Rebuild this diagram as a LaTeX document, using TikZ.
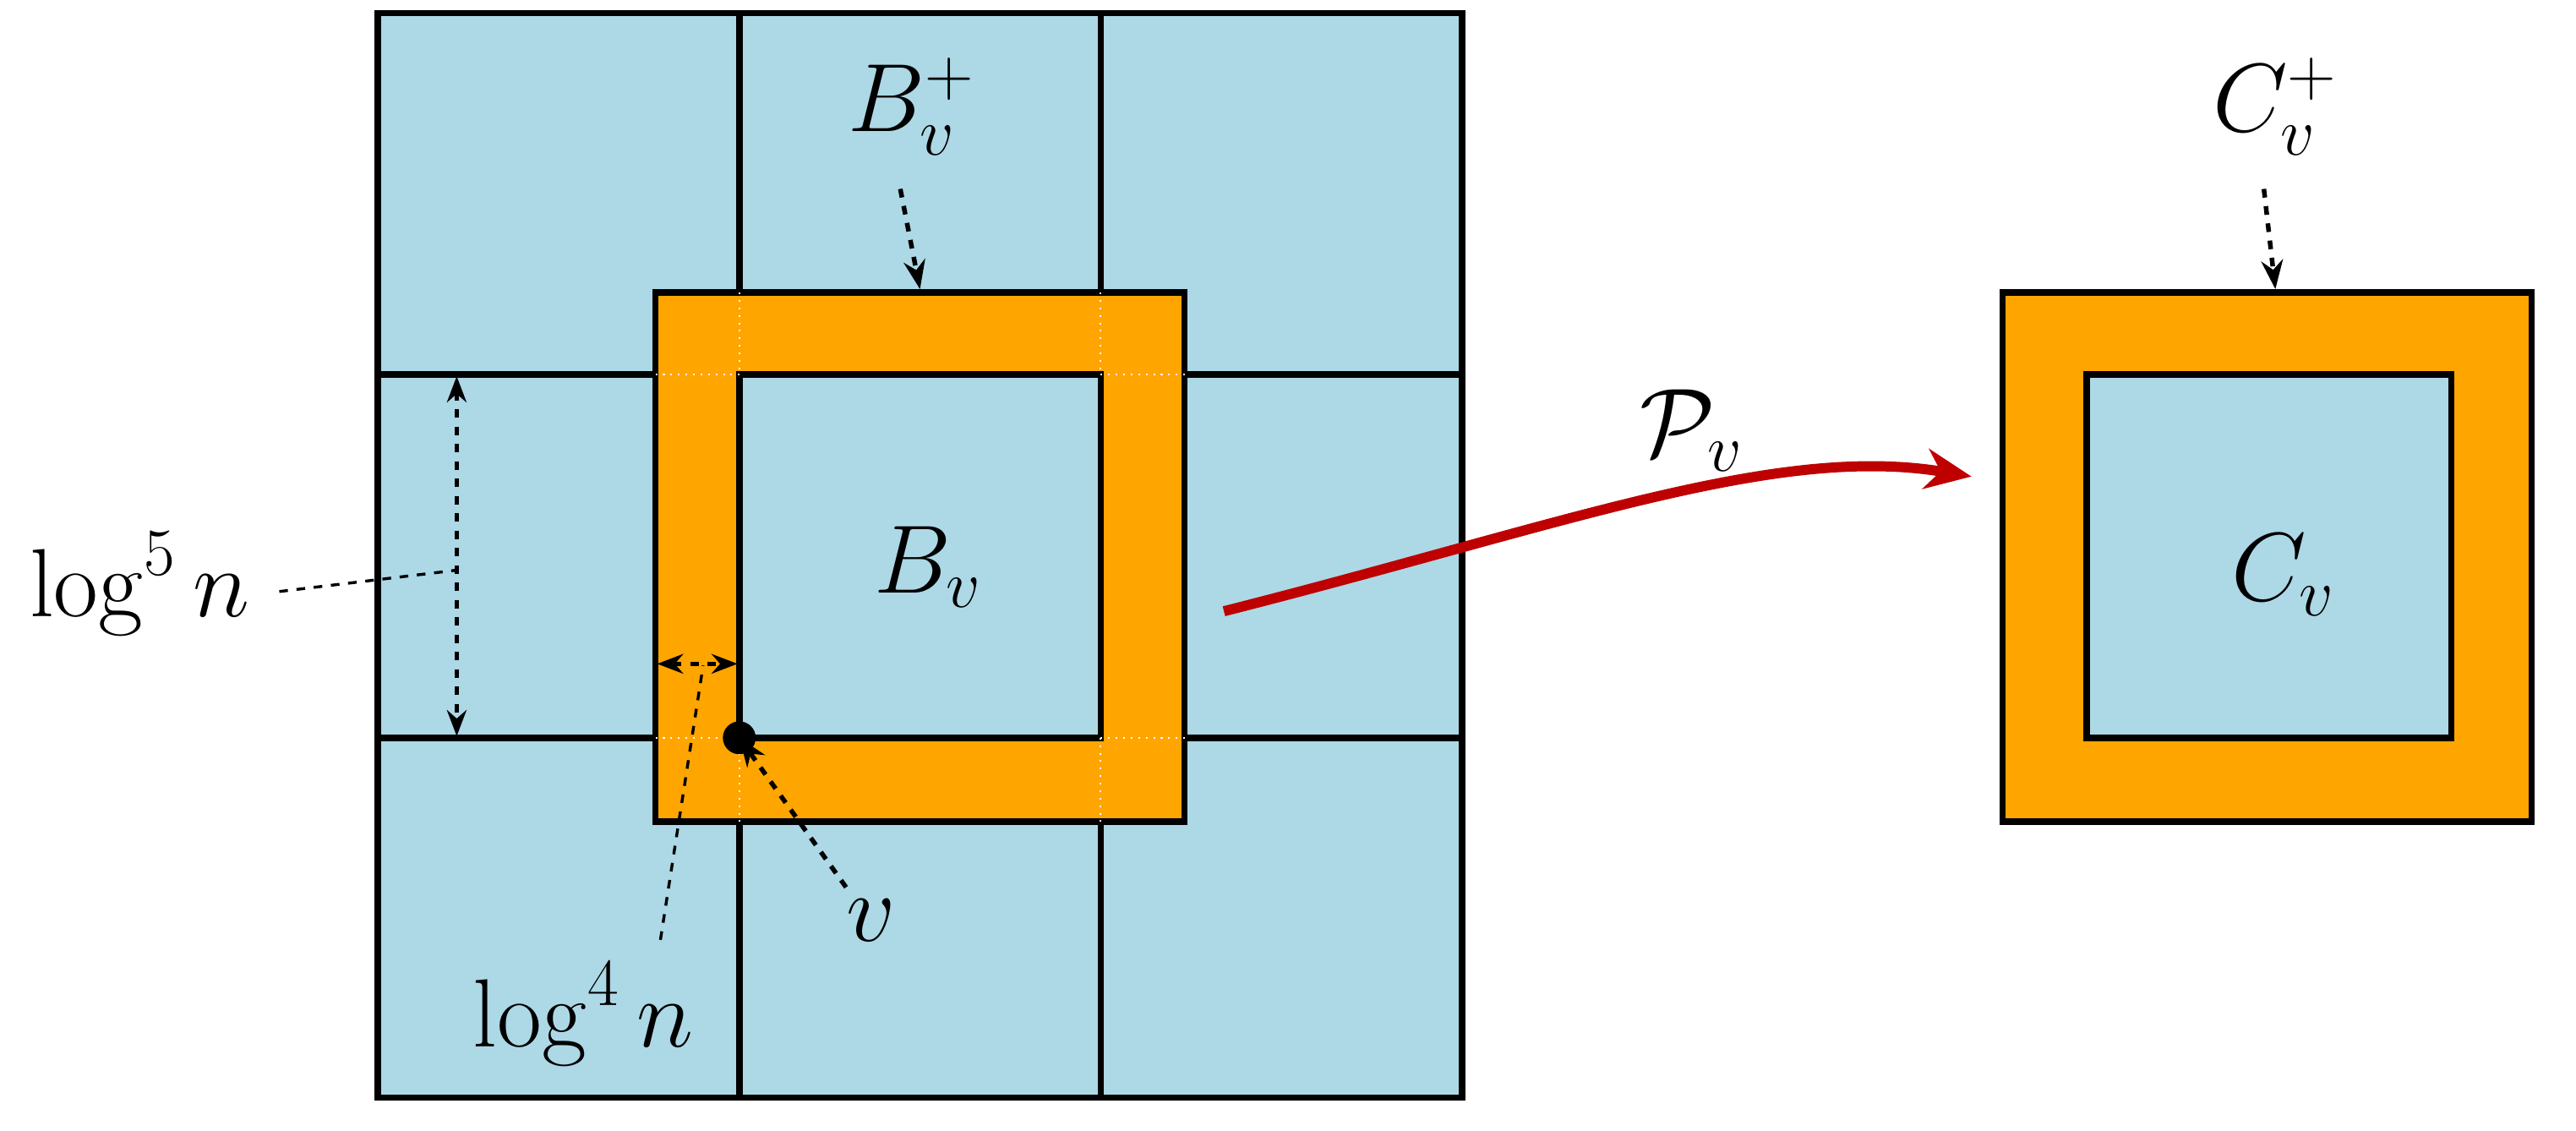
\documentclass[tikz,border=0pt]{standalone}
\usetikzlibrary{arrows.meta}
\definecolor{lb}{RGB}{173,216,230}
\definecolor{org}{RGB}{255,165,0}
\definecolor{rd}{RGB}{190,0,0}
\newcommand\mylbl[1]{\scalebox{1.35}{$#1$}}
\begin{document}
\begin{tikzpicture}[x=0.02cm,y=-0.02cm,
  bl/.style={draw=black,line width=2.2pt},
  lab/.style={font=\fontsize{24}{28}\selectfont},
  dsh/.style={dashed,line width=1.6pt,-{Stealth[length=10pt]}},
  thin/.style={dashed,line width=1pt}]
\useasboundingbox (0,0) rectangle (1568,688);
\fill[lb] (230,8) rectangle (890,668);
\foreach \x in {450,670} \draw[bl] (\x,8) -- (\x,668);
\foreach \y in {228,449} \draw[bl] (230,\y) -- (890,\y);
\draw[bl] (230,8) rectangle (890,668);
\fill[org] (399,178) rectangle (721,500);
\fill[lb] (450,228) rectangle (670,449);
\draw[bl] (399,178) rectangle (721,500);
\draw[bl] (450,228) rectangle (670,449);
\foreach \x in {450,670} \draw[white,dotted,line width=0.6pt] (\x,178) -- (\x,228) (\x,449) -- (\x,500);
\foreach \y in {228,449} \draw[white,dotted,line width=0.6pt] (399,\y) -- (450,\y) (670,\y) -- (721,\y);
\fill (450,449) circle (10);
\coordinate (v) at (450,449);
% right
\fill[org] (1219,178) rectangle (1541,500);
\fill[lb] (1270,228) rectangle (1492,449);
\draw[bl] (1219,178) rectangle (1541,500);
\draw[bl] (1270,228) rectangle (1492,449);
% labels
\node[lab] (bp) at (555,65) {\mylbl{B_v^+}};
\draw[dsh] (548,115) -- (560,176);
\node[lab] (cp) at (1385,65) {\mylbl{C_v^+}};
\draw[dsh] (1378,115) -- (1385,176);
\node[lab] at (565,345) {\mylbl{B_v}};
\node[lab] at (1390,350) {\mylbl{C_v}};
\node[lab] at (1030,262) {\mylbl{\mathcal{P}_v}};
\draw[rd,line width=3.5pt,-{Stealth[length=16pt,width=14pt]}] (745,372) .. controls (950,320) and (1080,270) .. (1200,290);
\node[lab] (l5) at (85,355) {\mylbl{\log^5 n}};
\draw[thin] (170,360) -- (278,347);
\draw[line width=1.6pt,dashed,{Stealth[length=9pt]}-{Stealth[length=9pt]}] (278,229) -- (278,448);
\draw[line width=1.6pt,dashed,{Stealth[length=9pt]}-{Stealth[length=9pt]}] (400,404) -- (449,404);
\node[lab] (l4) at (355,617) {\mylbl{\log^4 n}};
\draw[thin] (402,572) -- (428,405);
\node[lab] (vl) at (530,560) {\mylbl{v}};
\draw[dsh] (515,540) -- (v);
\end{tikzpicture}
\end{document}
